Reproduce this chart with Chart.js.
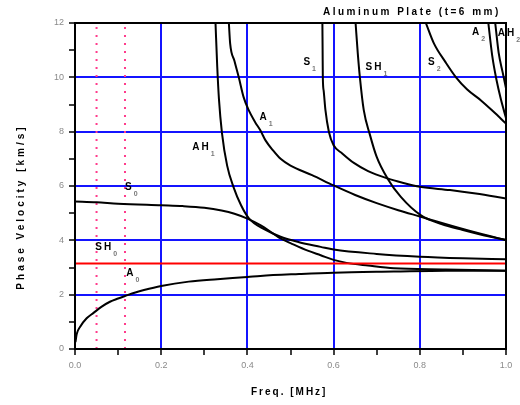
<!DOCTYPE html>
<html><head><meta charset="utf-8">
<script src="https://cdn.jsdelivr.net/npm/chart.js@4.4.1/dist/chart.umd.min.js"></script>
<style>html,body{margin:0;padding:0;background:#fff;}canvas{display:block;}</style>
</head><body>
<canvas id="c" width="520" height="405"></canvas>
<script>
// ---- tick labels ----
const xTickLabels = ['0.0','0.2','0.4','0.6','0.8','1.0'];
const yTickLabels = ['0','2','4','6','8','10','12'];

// ---- mode curves (frequency MHz, phase velocity km/s) ----
const a0Freq = [0.001,0.004,0.012,0.027,0.043,0.062,0.081,0.1,0.116,0.14,0.16,0.2,0.264,0.33,0.4,0.43,0.52,0.6,0.74,0.86,1.0];
const a0Vel  = [0.25,0.55,0.82,1.13,1.33,1.56,1.74,1.86,1.95,2.08,2.17,2.32,2.48,2.57,2.65,2.69,2.76,2.81,2.85,2.88,2.88];

const s0Freq = [0,0.05,0.1,0.2,0.25,0.3,0.34,0.37,0.4,0.43,0.46,0.477,0.5,0.54,0.57,0.6,0.63,0.68,0.74,0.86,1.0];
const s0Vel  = [5.43,5.40,5.35,5.29,5.26,5.20,5.10,4.98,4.80,4.56,4.25,4.07,3.90,3.62,3.45,3.28,3.17,3.07,2.97,2.93,2.88];

const ah1Freq = [0.326,0.330,0.334,0.341,0.353,0.368,0.385,0.403,0.44,0.477,0.52,0.57,0.6,0.7,0.8,0.9,1.0];
const ah1Vel  = [12,10.4,9.2,7.95,6.75,5.95,5.30,4.82,4.40,4.13,3.93,3.76,3.66,3.50,3.40,3.34,3.30];

const a1Freq = [0.357,0.36,0.37,0.38,0.391,0.403,0.418,0.43,0.442,0.46,0.477,0.5,0.55,0.6,0.65,0.7,0.75,0.8,0.9,1.0];
const a1Vel  = [12,11.24,10.6,10.0,9.28,8.79,8.35,8.05,7.68,7.3,7.0,6.75,6.40,6.02,5.67,5.37,5.11,4.88,4.42,4.0];

const s1Freq = [0.574,0.5745,0.575,0.577,0.581,0.589,0.6,0.62,0.647,0.68,0.725,0.76,0.8,0.87,0.93,1.0];
const s1Vel  = [12,11,10.0,9.5,8.8,8.0,7.5,7.2,6.85,6.55,6.28,6.12,5.97,5.85,5.72,5.54];

const sh1Freq = [0.651,0.656,0.661,0.67,0.684,0.70,0.725,0.756,0.802,0.85,0.9,0.95,1.0];
const sh1Vel  = [12,10.9,10.0,8.79,7.9,7.07,6.28,5.6,4.93,4.6,4.38,4.18,4.02];

const s2Freq = [0.814,0.833,0.86,0.884,0.91,0.942,0.97,1.0];
const s2Vel  = [12,11.24,10.55,10.0,9.55,9.15,8.75,8.3];

const a2Freq = [0.959,0.968,0.978,0.988,1.0];
const a2Vel  = [12,10.8,9.9,9.2,8.5];

const ah2Freq = [0.975,0.983,0.992,1.0];
const ah2Vel  = [12,10.9,10.2,9.6];

// SH0 (non-dispersive) velocity, and the two marked frequencies
const sh0Freq = [0,1.0];
const sh0Vel  = [3.15,3.15];
const markFreqs = [0.05,0.116];
const markVel = [0,12];

// mode labels: [main, subscript, freq, vel]
const modeLabels = [
  ['S','0',0.116,5.96],
  ['SH','0',0.047,3.75],
  ['A','0',0.119,2.79],
  ['AH','1',0.272,7.43],
  ['A','1',0.428,8.53],
  ['S','1',0.530,10.55],
  ['SH','1',0.674,10.37],
  ['S','2',0.819,10.55],
  ['A','2',0.921,11.65],
  ['AH','2',0.981,11.62]
];

const zip = (fs, vs) => fs.map((f,i)=>({x:f,y:vs[i]}));
const curve = (fs,vs) => ({data:zip(fs,vs),showLine:true,borderColor:'#000',borderWidth:2,pointRadius:0,fill:false,
  cubicInterpolationMode:'monotone',order:1});

const datasets = [
  curve(a0Freq,a0Vel), curve(s0Freq,s0Vel), curve(ah1Freq,ah1Vel), curve(a1Freq,a1Vel),
  curve(s1Freq,s1Vel), curve(sh1Freq,sh1Vel), curve(s2Freq,s2Vel), curve(a2Freq,a2Vel), curve(ah2Freq,ah2Vel),
  {data:zip(sh0Freq,sh0Vel),showLine:true,borderColor:'#ff0000',borderWidth:2,pointRadius:0,order:0},
  ...markFreqs.map(f=>({data:zip([f,f],markVel),showLine:true,borderColor:'#ff3c8c',borderWidth:2,borderDash:[2,6],pointRadius:0,order:2}))
];

const FONT='"Liberation Sans", Arial, sans-serif';
const overlay = {
  id:'overlay',
  afterDatasetsDraw(chart){
    const {ctx, chartArea:a, scales:{x,y}} = chart;
    ctx.save();
    ctx.strokeStyle='#000'; ctx.lineWidth=2;
    ctx.strokeRect(a.left,a.top,a.right-a.left,a.bottom-a.top);
    ctx.textBaseline='middle'; ctx.textAlign='left';
    for (const [m,s,f,v] of modeLabels){
      const px=x.getPixelForValue(f), py=y.getPixelForValue(v);
      ctx.font='bold 10px '+FONT;
      ctx.letterSpacing='2px';
      ctx.fillStyle='#000';
      ctx.fillText(m,px,py);
      const w=ctx.measureText(m).width;
      ctx.font='bold 7px '+FONT;
      ctx.letterSpacing='0px';
      ctx.fillStyle='#777';
      ctx.fillText(s,px+w,py+7);
    }
    // titles
    ctx.fillStyle='#000';
    ctx.font='bold 10px '+FONT;
    ctx.letterSpacing='2.5px';
    ctx.textAlign='left';
    ctx.fillText('Aluminum Plate (t=6 mm)',323,12);
    ctx.letterSpacing='2px';
    ctx.fillText('Freq. [MHz]',251,392);
    ctx.letterSpacing='3px';
    ctx.translate(21,207);
    ctx.rotate(-Math.PI/2);
    ctx.textAlign='center';
    ctx.fillText('Phase Velocity [km/s]',0,0);
    ctx.restore();
  }
};

new Chart(document.getElementById('c'),{
  type:'scatter',
  data:{datasets},
  options:{
    responsive:false, animation:false,
    layout:{padding:{left:0,right:14,top:23,bottom:0}},
    plugins:{legend:{display:false},tooltip:{enabled:false}},
    scales:{
      x:{type:'linear',min:0,max:1,
        afterFit(s){s.height=56;},
        ticks:{stepSize:0.1,autoSkip:false,maxRotation:0,color:'#8a8a8a',padding:5,
          font:{family:FONT,size:9},
          callback:(v,i)=> i%2===0 ? xTickLabels[i/2] : ''},
        grid:{color:c=> (c.index%2===0 && c.index>0 && c.index<10)?'#1414ff':'rgba(0,0,0,0)',lineWidth:2,
          tickColor:'#000',tickLength:6,tickWidth:1.5},
        border:{display:true,color:'#000',width:2}},
      y:{type:'linear',min:0,max:12,
        afterFit(s){s.width=75;},
        ticks:{stepSize:1,autoSkip:false,color:'#8a8a8a',padding:5,
          font:{family:FONT,size:9},
          callback:(v,i)=> i%2===0 ? yTickLabels[i/2] : ''},
        grid:{color:c=> (c.index%2===0 && c.index>0 && c.index<12)?'#1414ff':'rgba(0,0,0,0)',lineWidth:2,
          tickColor:'#000',tickLength:6,tickWidth:1.5},
        border:{display:true,color:'#000',width:2}}
    }
  },
  plugins:[overlay]
});
</script>
</body></html>
